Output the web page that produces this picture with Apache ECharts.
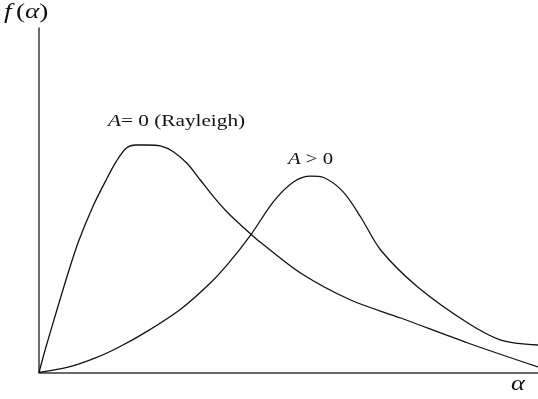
<!DOCTYPE html>
<html>
<head>
<meta charset="utf-8">
<script src="https://cdn.jsdelivr.net/npm/echarts@6/dist/echarts.min.js"></script>
<style>
  html, body { margin: 0; padding: 0; background: #fff; }
  #chart { width: 538px; height: 399px; }
</style>
</head>
<body>
<div id="chart"></div>
<script>
// Amplitude distribution f(α): Rayleigh case (A = 0) and Rician case (A > 0)
const alphaRayleigh = [0, 1.41, 3.41, 6.02, 8.03, 10.78, 13.45, 15.46, 17.47, 19.48, 21.49, 24.3, 26.91, 29.66, 32.33, 35.0, 37.69, 40.36, 42.37, 44.38, 52.41, 62.45, 72.49, 85.94, 100];
const fRayleigh     = [0, 7.49, 17.27, 29.75, 38.46, 48.13, 55.88, 61.19, 65.08, 66.04, 66.04, 65.75, 64.09, 60.73, 55.88, 51.0, 46.6, 42.9, 40.3, 37.8, 28.88, 21.04, 15.82, 8.56, 1.6];

const alphaRician = [0, 6.02, 11.45, 16.06, 21.49, 28.31, 34.34, 37.75, 42.37, 46.99, 51.0, 54.42, 57.03, 61.04, 64.46, 68.47, 75.9, 85.94, 92.57, 100];
const fRician     = [0, 1.6, 4.3, 7.4, 11.8, 18.3, 26.0, 31.3, 39.8, 49.6, 55.3, 57.0, 56.6, 52.3, 45.14, 35.56, 24.82, 14.37, 9.43, 7.98];

const serif = '"Liberation Serif", "DejaVu Serif", serif';
const ink = '#111';

function pairs(xs, ys) {
  return xs.map((x, i) => [x, ys[i]]);
}

// serif text, italic for symbols, slightly widened
function label(x, y, text, size, sx) {
  return {
    type: 'text', x: x, y: y, scaleX: sx, originX: 0, originY: 0,
    style: {
      text: text,
      verticalAlign: 'top',
      rich: {
        i: { fontFamily: serif, fontStyle: 'italic', fontSize: size, fill: ink },
        n: { fontFamily: serif, fontSize: size, fill: ink }
      }
    }
  };
}

const chart = echarts.init(document.getElementById('chart'), null, { renderer: 'canvas' });

const axisCommon = {
  type: 'value',
  min: 0,
  max: 100,
  axisLine: { show: true, lineStyle: { color: '#3a3a3a', width: 1.5 } },
  axisTick: { show: false },
  axisLabel: { show: false },
  splitLine: { show: false }
};

const lineCommon = {
  type: 'line',
  smooth: 0.3,
  showSymbol: false,
  symbol: 'none',
  silent: true,
  lineStyle: { color: ink, width: 1.3 }
};

chart.setOption({
  animation: false,
  backgroundColor: '#fff',
  grid: { left: 39, right: 0, top: 28, bottom: 26.5 },
  xAxis: Object.assign({}, axisCommon),
  yAxis: Object.assign({}, axisCommon),
  series: [
    Object.assign({}, lineCommon, { name: 'A = 0 (Rayleigh)', data: pairs(alphaRayleigh, fRayleigh) }),
    Object.assign({}, lineCommon, { name: 'A > 0', data: pairs(alphaRician, fRician) })
  ],
  graphic: [
    label(4, 2, '{i|f} {n|(}{i|α}{n|)}', 21, 1.3),
    label(511, 373, '{i|α}', 22, 1.2),
    label(108, 113, '{i|A}{n|= 0 (Rayleigh)}', 17, 1.25),
    label(288, 151, '{i|A}{n| > 0}', 17, 1.22)
  ]
});
</script>
</body>
</html>
